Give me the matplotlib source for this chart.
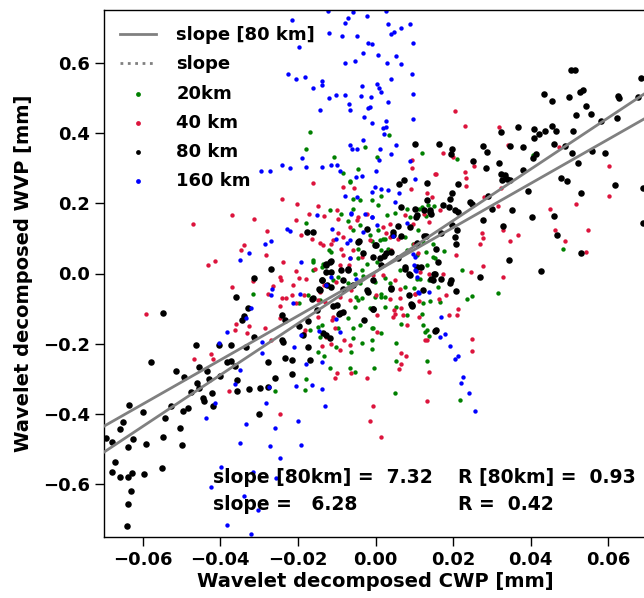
import numpy as np
import matplotlib
matplotlib.use('Agg')
import matplotlib.pyplot as plt
from matplotlib.lines import Line2D

# puntos (CWP, WVP) por escala
pts_20km = np.array([
    (-0.0168, 0.404), (-0.018, 0.354), (-0.0108, 0.333), (-0.0026, 0.36), (-0.0045, 0.298), (-0.0084, 0.287),
    (-0.0065, 0.262), (-0.0058, 0.211), (0.0034, 0.393), (0.0119, 0.342), (0.0003, 0.331), (0.0209, 0.325),
    (0.0015, 0.222), (0.0407, 0.336), (0.0483, 0.07), (0.0317, -0.055), (0.0222, 0.011), (0.0237, -0.073),
    (0.0248, -0.064), (0.0177, 0.064), (0.0162, -0.038), (0.0166, -0.081), (0.014, -0.078), (0.0119, -0.116),
    (0.0123, -0.147), (0.0127, -0.166), (0.0138, -0.178), (0.0132, -0.249), (0.0054, -0.197), (0.0054, -0.249),
    (0.005, -0.339), (-0.0004, -0.268), (0.0015, -0.169), (-0.001, -0.156), (-0.0008, -0.215), (-0.0008, -0.19),
    (0.0067, -0.144), (0.008, -0.117), (0.01, -0.04), (0.0138, -0.019), (0.0153, 0.045), (0.013, 0.061),
    (0.0106, 0.052), (0.0123, 0.09), (0.011, 0.123), (0.0119, 0.189), (0.0151, 0.191), (0.0007, 0.194),
    (0.005, 0.172), (0.008, 0.185), (0.0089, 0.161), (0.013, 0.163), (0.003, 0.166), (0.002, 0.099),
    (0.0011, 0.095), (0.0007, 0.123), (0.0033, 0.071), (0.0063, 0.009), (0.0037, -0.027), (0.008, 0.066),
    (0.0015, -0.057), (0.0024, -0.066), (0.0106, -0.016), (0.0218, -0.36), (-0.0118, 0.182), (-0.0088, 0.168),
    (-0.0058, 0.185), (-0.0071, 0.149), (-0.0041, 0.137), (-0.0178, 0.144), (-0.0161, 0.033), (-0.0139, 0.019),
    (-0.012, 0.066), (-0.0109, -0.019), (-0.0049, -0.066), (-0.0071, -0.128), (-0.0058, -0.156), (-0.0148, -0.152),
    (-0.0168, -0.161), (-0.0144, -0.18), (-0.0101, -0.208), (-0.0058, -0.185), (-0.0148, -0.223), (-0.0134, -0.235),
    (-0.0118, -0.27), (-0.0066, -0.27), (-0.0053, -0.28), (-0.0178, -0.301), (-0.0183, -0.332), (-0.0258, -0.334),
    (-0.0316, -0.057), (-0.0036, 0.009), (-0.0045, -0.076), (-0.0144, -0.076), (-0.0196, -0.085), (-0.0174, -0.062),
    (-0.0062, -0.223), (-0.0065, 0.26), (-0.0041, 0.208), (-0.001, 0.21), (-0.0058, 0.123), (-0.0015, 0.109),
    (0.0024, 0.099), (-0.001, 0.092), (-0.0045, 0.071), (0.0015, 0.066), (-0.0045, 0.045), (0.0003, 0.033),
    (-0.0023, 0.028), (-0.0161, 0.038), (-0.0114, 0.061), (-0.0135, 0.028), (-0.0161, 0.009), (-0.0097, -0.01),
    (-0.0053, 0.0), (-0.0032, -0.008), (-0.0071, -0.028), (-0.0041, -0.028), (-0.0002, -0.024), (0.0024, -0.014),
    (-0.0036, -0.071), (-0.0002, -0.066), (0.0015, -0.066), (-0.0053, -0.095), (-0.0015, -0.099), (0.0024, -0.095),
    (0.0054, -0.095), (-0.0041, -0.147), (-0.0006, -0.156), (-0.0036, -0.197), (-0.0097, -0.156), (-0.0139, -0.147),
    (0.0076, -0.038), (0.0114, -0.017), (0.0132, 0.024), (0.0149, 0.047), (0.0113, 0.185), (0.0136, 0.194),
    (0.0076, 0.104), (0.0097, 0.085), (0.0149, 0.085), (0.0123, -0.085), (0.0132, -0.161),
])

pts_40km = np.array([
    (-0.0161, 0.258), (-0.0084, 0.246), (-0.0056, 0.244), (-0.024, 0.211), (0.0205, 0.462), (0.0231, 0.421),
    (0.0319, 0.417), (0.0173, 0.343), (0.0199, 0.331), (0.0093, 0.301), (0.0255, 0.306), (0.0156, 0.282),
    (0.0232, 0.289), (0.0233, 0.273), (0.0233, 0.248), (0.0091, 0.241), (0.0341, 0.367), (0.0472, 0.36),
    (0.0603, 0.305), (0.0601, 0.22), (0.0132, 0.229), (0.0145, 0.218), (0.028, 0.218), (0.0324, 0.244),
    (0.0549, 0.123), (0.0489, 0.092), (0.0542, 0.06), (0.045, 0.185), (0.0463, 0.125), (0.0517, 0.198),
    (0.0367, 0.111), (0.0347, 0.092), (0.0328, 0.123), (0.0274, 0.114), (0.0276, 0.102), (0.0269, 0.085),
    (0.0315, 0.192), (0.0276, 0.022), (0.0246, 0.003), (0.0328, -0.01), (0.0207, 0.054), (0.0183, -0.062),
    (0.0213, -0.101), (0.0209, -0.118), (0.0189, -0.118), (0.0164, -0.074), (0.025, -0.187), (0.0248, -0.221),
    (0.0175, -0.002), (0.0138, -0.28), (0.0067, -0.225), (0.0078, -0.235), (0.0067, -0.259), (0.0061, -0.273),
    (0.0132, -0.188), (0.0113, -0.125), (0.0048, -0.104), (0.0045, -0.125), (0.0065, -0.098), (0.01, 0.085),
    (0.011, 0.057), (0.0076, 0.166), (0.0166, 0.18), (0.0097, 0.142), (0.002, 0.132), (0.0037, 0.14),
    (0.0138, 0.147), (0.0114, 0.005), (0.0138, 0.0), (0.0101, -0.059), (0.0113, -0.078), (0.0001, -0.062),
    (0.005, -0.019), (0.0063, -0.045), (0.0037, -0.074), (0.002, -0.005), (0.0018, 0.024), (0.0058, 0.097),
    (0.0028, 0.114), (-0.0015, 0.095), (0.0132, -0.363), (-0.0006, -0.377), (0.0014, -0.464), (-0.0015, -0.419),
    (-0.0471, 0.14), (-0.0369, 0.166), (-0.0314, 0.156), (-0.0202, 0.199), (-0.0148, 0.191), (-0.0134, 0.163),
    (-0.0172, 0.17), (-0.0206, 0.151), (-0.0098, 0.182), (-0.0045, 0.161), (-0.0432, 0.024), (-0.0413, 0.036),
    (-0.0591, -0.114), (-0.0339, 0.082), (-0.0348, 0.066), (-0.028, 0.12), (-0.0282, 0.052), (-0.0239, 0.033),
    (-0.0193, 0.109), (-0.0165, 0.099), (-0.0144, 0.087), (-0.0116, 0.085), (-0.0097, 0.114), (-0.0084, 0.104),
    (-0.0204, 0.007), (-0.0178, -0.017), (-0.0245, -0.01), (-0.0243, -0.019), (-0.0316, -0.021), (-0.0369, -0.038),
    (-0.0263, -0.036), (-0.0277, -0.057), (-0.024, -0.069), (-0.0214, -0.062), (-0.0185, -0.062), (-0.0247, -0.093),
    (-0.0326, -0.098), (-0.0148, -0.076), (-0.0359, -0.144), (-0.0363, -0.161), (-0.0325, -0.15), (-0.0331, -0.169),
    (-0.0286, -0.155), (-0.0247, -0.128), (-0.0148, -0.123), (-0.0185, -0.17), (-0.0183, -0.161), (-0.0127, -0.18),
    (-0.0137, -0.206), (-0.0116, -0.202), (-0.0099, -0.284), (-0.0105, -0.298), (-0.0062, -0.282), (-0.0023, -0.298),
    (-0.0425, -0.229), (-0.0468, -0.243), (-0.0419, -0.243), (-0.0269, -0.188), (-0.0378, -0.334), (-0.0092, -0.218),
    (-0.0081, -0.19), (-0.0068, 0.024), (-0.0111, -0.133), (-0.0105, -0.156), (-0.0058, 0.066), (-0.0036, 0.047),
    (-0.0084, 0.052), (-0.0092, 0.024), (-0.0133, -0.033), (-0.0144, -0.052), (-0.0023, 0.17), (-0.0247, -0.401),
    (-0.0097, 0.156), (-0.0066, 0.132), (-0.0047, 0.151), (-0.0109, 0.095), (-0.0135, 0.08), (-0.0088, 0.071),
    (-0.0065, 0.045), (-0.009, 0.014), (-0.0157, 0.014), (-0.0196, -0.014), (-0.0213, -0.033), (-0.0101, -0.024),
    (-0.0092, -0.066), (-0.0066, -0.076), (-0.0062, -0.047), (-0.0006, -0.005), (0.0037, 0.104), (0.0041, 0.066),
    (0.0093, 0.322), (0.0153, 0.284), (0.0125, 0.168), (0.0101, -0.057), (0.0063, -0.071), (0.005, -0.114),
    (0.0071, -0.118), (0.008, -0.147), (0.0127, -0.19), (-0.0109, -0.123), (-0.0131, -0.081), (-0.0204, -0.085),
    (-0.023, -0.071), (0.0003, -0.118), (0.0003, -0.166), (-0.0066, -0.204),
])

pts_80km = np.array([
    (0.0505, 0.58), (0.0515, 0.58), (0.0684, 0.556), (0.0435, 0.51), (0.0456, 0.49), (0.05, 0.502),
    (0.0528, 0.518), (0.0536, 0.523), (0.0624, 0.504), (0.0627, 0.499), (0.0678, 0.502), (0.0543, 0.478),
    (0.0517, 0.45), (0.0555, 0.455), (0.0582, 0.434), (0.0623, 0.443), (0.051, 0.407), (0.0368, 0.418),
    (0.0409, 0.412), (0.0422, 0.398), (0.0437, 0.407), (0.0456, 0.419), (0.0466, 0.407), (0.0324, 0.402),
    (0.0409, 0.385), (0.0347, 0.362), (0.038, 0.36), (0.0459, 0.369), (0.0489, 0.362), (0.0506, 0.344),
    (0.0559, 0.348), (0.0592, 0.343), (0.0523, 0.314), (0.0101, 0.369), (0.0164, 0.369), (0.0198, 0.353),
    (0.0194, 0.339), (0.0278, 0.362), (0.0288, 0.347), (0.0251, 0.319), (0.0319, 0.314), (0.0285, 0.3),
    (0.038, 0.296), (0.0413, 0.339), (0.0407, 0.328), (0.0324, 0.282), (0.0334, 0.279), (0.0338, 0.27),
    (0.0325, 0.265), (0.0347, 0.267), (0.0479, 0.273), (0.0495, 0.262), (0.0618, 0.253), (0.0689, 0.243),
    (0.0061, 0.254), (0.0074, 0.265), (0.0134, 0.258), (0.0212, 0.254), (0.0198, 0.229), (0.0393, 0.235),
    (0.053, 0.229), (0.0192, 0.211), (0.0291, 0.222), (0.069, 0.145), (0.0529, 0.057), (0.046, 0.163),
    (0.0467, 0.109), (0.0351, 0.182), (0.0403, 0.161), (0.033, 0.134), (0.0345, 0.038), (0.0426, 0.007),
    (0.0269, -0.011), (0.0276, 0.153), (0.03, 0.185), (0.0207, -0.049), (0.0192, -0.028), (0.0194, -0.019),
    (0.0207, 0.085), (0.0205, 0.104), (0.0211, 0.123), (0.0155, -0.161), (0.017, -0.017), (0.0151, 0.0),
    (0.0149, -0.019), (0.0162, 0.033), (0.0155, 0.071), (0.0117, 0.019), (0.0087, -0.002), (0.0087, -0.06),
    (0.0091, -0.088), (0.0093, -0.093), (0.0041, -0.043), (-0.0006, -0.101), (0.019, 0.188), (0.0205, 0.18),
    (0.0213, 0.175), (0.0196, 0.137), (0.0244, 0.203), (0.0248, 0.197), (0.0175, 0.194), (0.017, 0.114),
    (0.013, 0.106), (0.014, 0.18), (0.0144, 0.17), (0.0106, 0.166), (0.0101, 0.185), (0.0067, 0.189),
    (0.0058, 0.134), (0.0067, 0.106), (0.0045, 0.109), (0.0108, 0.087), (0.0, 0.082), (-0.0006, 0.047),
    (0.0011, 0.045), (0.0027, 0.057), (0.0039, 0.06), (0.0076, 0.019), (-0.0006, -0.019), (0.0126, 0.18),
    (-0.0549, -0.112), (-0.0579, -0.253), (-0.0464, -0.204), (-0.0514, -0.278), (-0.0493, -0.294), (-0.0454, -0.267),
    (-0.0435, -0.278), (-0.043, -0.301), (-0.046, -0.311), (-0.0456, -0.327), (-0.0475, -0.337), (-0.0421, -0.341),
    (-0.0445, -0.355), (-0.0404, -0.204), (-0.0372, -0.204), (-0.0382, -0.251), (-0.0372, -0.249), (-0.0402, -0.291),
    (-0.0363, -0.263), (-0.0356, -0.303), (-0.0356, -0.334), (-0.0325, -0.329), (-0.0299, -0.327), (-0.0277, -0.322),
    (-0.0258, -0.298), (-0.0277, -0.253), (-0.0333, -0.208), (-0.0314, -0.182), (-0.024, -0.19), (-0.0234, -0.24),
    (-0.0214, -0.246), (-0.0215, -0.287), (-0.0174, -0.208), (-0.017, -0.246), (-0.024, -0.118), (-0.0234, -0.133),
    (-0.0312, -0.014), (-0.0269, 0.012), (-0.0359, -0.066), (-0.0329, -0.097), (-0.034, -0.121), (-0.0343, -0.133),
    (-0.0197, -0.149), (-0.0187, -0.175), (-0.0174, -0.135), (-0.0152, -0.104), (-0.0164, -0.073), (-0.0135, -0.17),
    (-0.0118, -0.185), (-0.0176, 0.118), (-0.0161, 0.118), (-0.0139, -0.019), (-0.0144, -0.047), (-0.0124, -0.033),
    (-0.0127, 0.028), (-0.0118, 0.033), (-0.0114, 0.005), (-0.0084, -0.019), (-0.0109, -0.093), (-0.0099, -0.091),
    (-0.0092, -0.112), (-0.0084, -0.109), (-0.0071, 0.011), (-0.0058, -0.033), (-0.0045, 0.09), (-0.0023, 0.128),
    (-0.0029, -0.131), (-0.0023, -0.047), (-0.0636, -0.374), (-0.0695, -0.469), (-0.0679, -0.481), (-0.065, -0.424),
    (-0.0659, -0.443), (-0.0639, -0.493), (-0.0624, -0.471), (-0.06, -0.395), (-0.0591, -0.486), (-0.0549, -0.464),
    (-0.0544, -0.412), (-0.0527, -0.377), (-0.0503, -0.439), (-0.0498, -0.488), (-0.0497, -0.391), (-0.0484, -0.384),
    (-0.0443, -0.363), (-0.0418, -0.377), (-0.0301, -0.4), (-0.0672, -0.536), (-0.068, -0.564), (-0.0659, -0.578),
    (-0.0639, -0.578), (-0.0628, -0.568), (-0.0596, -0.57), (-0.0551, -0.554), (-0.063, -0.618), (-0.0639, -0.656),
    (-0.0641, -0.718), (0.014, 0.175), (0.0088, 0.132), (0.0104, 0.161), (-0.0042, 0.093), (-0.0002, 0.08),
    (0.0021, 0.049), (0.0058, 0.045), (0.0125, 0.106), (0.0045, 0.118), (-0.0115, 0.035), (-0.0127, 0.024),
    (-0.0127, 0.005), (-0.0088, 0.009), (-0.0071, 0.014), (-0.0137, -0.019), (-0.0114, -0.038), (-0.0146, -0.045),
    (-0.0161, -0.071), (-0.0085, -0.045), (-0.0094, -0.114), (-0.0019, -0.052), (0.0041, -0.04), (0.0089, -0.005),
    (0.0076, 0.014), (0.0106, 0.019), (0.0093, -0.09), (0.0153, 0.0), (0.0144, -0.017), (0.0132, 0.208),
    (-0.0006, -0.102), (-0.0239, -0.194), (-0.0127, -0.175), (0.0153, -0.164), (0.0123, -0.047), (-0.0032, 0.057),
    (0.0014, 0.024),
])

pts_160km = np.array([
    (-0.0214, 0.722), (-0.0071, 0.726), (-0.0078, 0.712), (-0.0058, 0.743), (-0.0023, 0.734), (-0.0121, 0.685),
    (-0.0086, 0.677), (-0.0047, 0.675), (-0.0019, 0.655), (-0.0196, 0.644), (-0.0032, 0.629), (-0.0079, 0.598),
    (-0.0053, 0.606), (-0.0226, 0.568), (-0.0206, 0.554), (-0.0181, 0.559), (-0.0139, 0.547), (-0.0137, 0.537),
    (-0.0161, 0.527), (-0.0036, 0.535), (-0.0121, 0.5), (-0.0101, 0.509), (-0.0079, 0.507), (-0.0038, 0.505),
    (-0.0068, 0.483), (-0.0066, 0.464), (-0.0144, 0.464), (-0.0019, 0.47), (-0.0029, 0.445), (-0.0032, 0.381),
    (-0.0066, 0.366), (-0.006, 0.355), (-0.0047, 0.353), (-0.0189, 0.328), (-0.0294, 0.291), (-0.0273, 0.293),
    (-0.024, 0.31), (-0.0221, 0.301), (-0.0178, 0.303), (-0.0137, 0.303), (-0.0114, 0.31), (-0.0099, 0.309),
    (-0.0092, 0.293), (-0.0049, 0.274), (-0.0036, 0.277), (-0.0079, 0.222), (-0.0048, 0.218), (-0.0122, 0.746),
    (0.0026, 0.746), (0.0033, 0.71), (0.0067, 0.7), (0.009, 0.71), (0.0048, 0.688), (0.0041, 0.682),
    (0.0096, 0.655), (-0.001, 0.653), (0.0007, 0.623), (0.0052, 0.62), (0.003, 0.6), (0.0065, 0.597),
    (0.0093, 0.568), (0.0041, 0.553), (0.0003, 0.538), (0.0009, 0.528), (0.0013, 0.516), (0.0096, 0.511),
    (-0.0012, 0.502), (0.0031, 0.488), (-0.0015, 0.475), (0.0097, 0.44), (-0.0008, 0.428), (0.0026, 0.433),
    (0.002, 0.415), (0.0027, 0.418), (0.0022, 0.396), (0.0054, 0.366), (0.0011, 0.353), (0.0041, 0.341),
    (0.0009, 0.322), (0.0089, 0.32), (0.0001, 0.291), (0.0101, 0.27), (-0.0002, 0.246), (0.0015, 0.241),
    (0.0033, 0.239), (0.0061, 0.23), (-0.001, 0.232), (0.005, 0.203), (0.0003, 0.139), (-0.001, 0.161),
    (0.008, 0.144), (0.0045, 0.106), (0.0097, 0.055), (0.0101, 0.047), (0.01, 0.024), (0.0104, 0.007),
    (0.0106, -0.01), (0.0113, -0.055), (0.0138, -0.052), (0.017, -0.125), (0.0166, -0.18), (0.018, -0.172),
    (0.0192, -0.207), (0.0212, -0.234), (0.0205, -0.243), (0.0225, -0.294), (0.022, -0.313), (0.0241, -0.341),
    (0.0256, -0.39), (-0.0228, 0.128), (-0.0221, 0.121), (-0.0286, 0.085), (-0.0269, 0.093), (-0.0326, 0.057),
    (-0.0349, 0.038), (-0.0151, 0.166), (-0.0111, 0.126), (-0.0101, 0.097), (-0.0073, 0.087), (-0.0064, 0.17),
    (-0.0191, 0.033), (-0.0127, -0.033), (-0.0269, -0.062), (-0.0266, -0.045), (-0.0213, -0.083), (-0.0194, -0.059),
    (-0.032, -0.099), (-0.0335, -0.128), (-0.0382, -0.166), (-0.0404, -0.197), (-0.0293, -0.194), (-0.0293, -0.227),
    (-0.0191, -0.175), (-0.0101, -0.13), (-0.0092, -0.166), (-0.021, -0.208), (-0.0178, -0.258), (-0.0139, -0.253),
    (-0.0206, -0.319), (-0.0165, -0.317), (-0.0138, -0.329), (-0.0363, -0.315), (-0.0349, -0.275), (-0.0275, -0.324),
    (-0.0049, -0.017), (-0.0032, 0.118), (-0.0415, -0.368), (-0.0438, -0.412), (-0.0283, -0.368), (-0.0333, -0.429),
    (-0.026, -0.44), (-0.02, -0.42), (-0.0129, -0.377), (-0.035, -0.483), (-0.0273, -0.491), (-0.0245, -0.524),
    (-0.0191, -0.488), (-0.0398, -0.551), (-0.0316, -0.566), (-0.0257, -0.581), (-0.0424, -0.608), (-0.0338, -0.633),
    (-0.0303, -0.672), (-0.0382, -0.715), (-0.0322, -0.741), (-0.0062, 0.172), (-0.0028, 0.17), (-0.0008, 0.161),
    (-0.0065, 0.095), (0.0101, 0.009), (-0.0114, -0.01), (-0.0066, 0.045), (-0.0146, -0.163), (0.011, -0.052),
])

# rectas de ajuste
slope_80, inter_80, r_80 = 7.32, 0.004, 0.93
slope_all, inter_all, r_all = 6.28, 0.005, 0.42
x_lim = (-0.07, 0.07)
y_lim = (-0.75, 0.75)

plt.rcParams['font.weight'] = 'bold'
plt.rcParams['axes.labelweight'] = 'bold'
plt.rcParams['font.size'] = 13

fig = plt.figure(figsize=(6.44, 5.98), dpi=100)
ax = fig.add_axes([104 / 644, 61 / 598, 543 / 644, 527 / 598])

ax.scatter(pts_20km[:, 0], pts_20km[:, 1], s=10, color='green', label='20km', linewidths=0)
ax.scatter(pts_40km[:, 0], pts_40km[:, 1], s=10, color='crimson', label='40 km', linewidths=0)
ax.scatter(pts_80km[:, 0], pts_80km[:, 1], s=22, color='black', label='80 km', linewidths=0)
ax.scatter(pts_160km[:, 0], pts_160km[:, 1], s=10, color='blue', label='160 km', linewidths=0)

xx = np.array(x_lim)
ax.plot(xx, slope_80 * xx + inter_80, color='grey', lw=2, zorder=4)
ax.plot(xx, slope_all * xx + inter_all, color='grey', lw=2, zorder=4)

ax.set_xlim(x_lim)
ax.set_ylim(y_lim)
ax.set_xticks([-0.06, -0.04, -0.02, 0.0, 0.02, 0.04, 0.06])
ax.set_yticks([-0.6, -0.4, -0.2, 0.0, 0.2, 0.4, 0.6])
ax.tick_params(length=6.5, width=1.0)
for sp in ax.spines.values():
    sp.set_linewidth(1.0)
ax.set_xlabel('Wavelet decomposed CWP [mm]', fontsize=14, labelpad=2)
ax.set_ylabel('Wavelet decomposed WVP [mm]', fontsize=14, labelpad=7)

ax.text(-0.042, -0.582, 'slope [80km] =  %.2f' % slope_80, va='center', fontsize=13.5)
ax.text(-0.042, -0.658, 'slope =   %.2f' % slope_all, va='center', fontsize=13.5)
ax.text(0.0212, -0.582, 'R [80km] =  %.2f' % r_80, va='center', fontsize=13.5)
ax.text(0.0212, -0.658, 'R =  %.2f' % r_all, va='center', fontsize=13.5)

handles, labels = ax.get_legend_handles_labels()
lineas = [Line2D([], [], color='grey', lw=2, ls='-'), Line2D([], [], color='grey', lw=2, ls=':')]
leg = ax.legend(lineas + handles, ['slope [80 km]', 'slope'] + labels, loc='upper left',
                frameon=False, labelspacing=0.62, handletextpad=1.1)
for h in leg.legend_handles[2:]:
    h.set_sizes([12])

fig.savefig('out.png', dpi=100)
